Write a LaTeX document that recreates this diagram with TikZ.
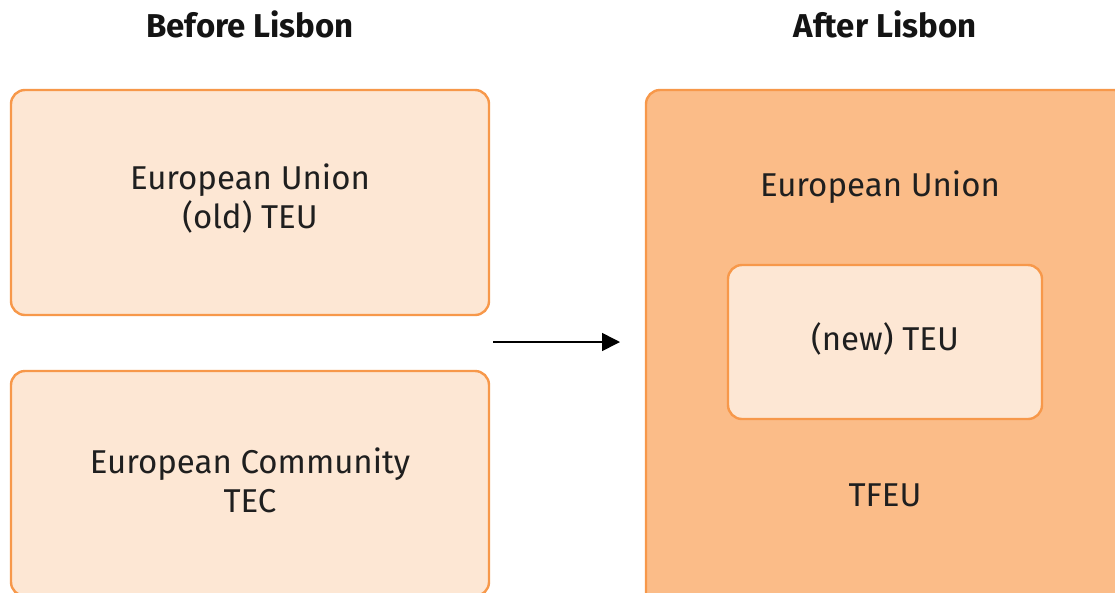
\documentclass[tikz,border=0pt]{standalone}
\usepackage{fontspec}
\setmainfont{Fira Sans}
\usetikzlibrary{arrows.meta}
\definecolor{lightfill}{HTML}{FDE7D4}
\definecolor{darkfill}{HTML}{FBBC88}
\definecolor{edge}{HTML}{F7984A}
\tikzset{
  box/.style={draw=edge, line width=2.4pt, rounded corners=14pt},
  lbl/.style={font=\fontsize{33}{39}\selectfont, align=center, text=black!88},
  ttl/.style={font=\bfseries\fontsize{33}{39}\selectfont, text=black!92},
}
\begin{document}
\begin{tikzpicture}[x=1pt,y=-1pt]
\useasboundingbox (0,0) rectangle (1115,592);
\clip (0,0) rectangle (1115,592);
\fill[white] (0,0) rectangle (1115,592);
\node[ttl] (t1) at (250,24) {Before Lisbon};
\node[ttl] (t2) at (885,24) {After Lisbon};
\draw[box, fill=lightfill] (11,90) rectangle (489,315);
\node[lbl] (eu) at (250,199) {European Union\\(old) TEU};
\draw[box, fill=lightfill] (11,371) rectangle (489,596);
\node[lbl] (ec) at (250,480) {European Community\\TEC};
\draw[box, fill=darkfill] (646,90) rectangle (1128,610);
\node[lbl] (eu2) at (880,187) {European Union};
\draw[box, fill=lightfill] (728,265) rectangle (1042,419);
\node[lbl] (teu) at (885,339) {(new) TEU};
\node[lbl] (tfeu) at (885,495) {TFEU};
\coordinate (a1) at (493,342);
\coordinate (a2) at (620,342);
\draw[line width=1.6pt, -{Triangle[length=18pt,width=18pt]}] (a1) -- (a2);
\end{tikzpicture}
\end{document}
